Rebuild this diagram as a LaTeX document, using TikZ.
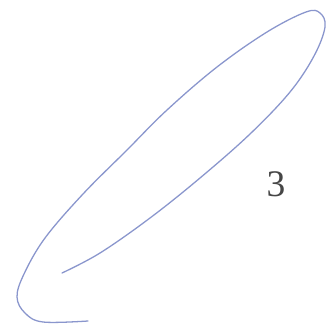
\documentclass[tikz,border=0pt]{standalone}
\usepackage{fontspec}
\setmainfont{Liberation Serif}
\usepackage{tikz}
\usetikzlibrary{positioning,calc}
\definecolor{loopblue}{RGB}{138,150,205}
\definecolor{labgray}{RGB}{70,70,70}
\tikzset{
  loopline/.style={loopblue, line width=1.1pt, line cap=round, line join=round},
  numlab/.style={font=\fontsize{32}{32}\selectfont, text=labgray, inner sep=0pt},
}

\begin{document}
\begin{tikzpicture}[x=0.03cm, y=-0.03cm]
    \useasboundingbox (0,0) rectangle (334,327);
    \draw[loopline] plot[smooth, tension=0.6] coordinates {
        (62,273) (100,253) (150,218) (200,178) (250,134) (290,92)
        (314,56) (325,27) (320,13) (306,12) (267,32) (217,67)
        (167,110) (127,150) (83,194) (45,238) (24,274) (17,297)
        (25,313) (43,322) (88,321)};
    \node[numlab] (three) at (276,184) {3};
  \end{tikzpicture}
\end{document}
